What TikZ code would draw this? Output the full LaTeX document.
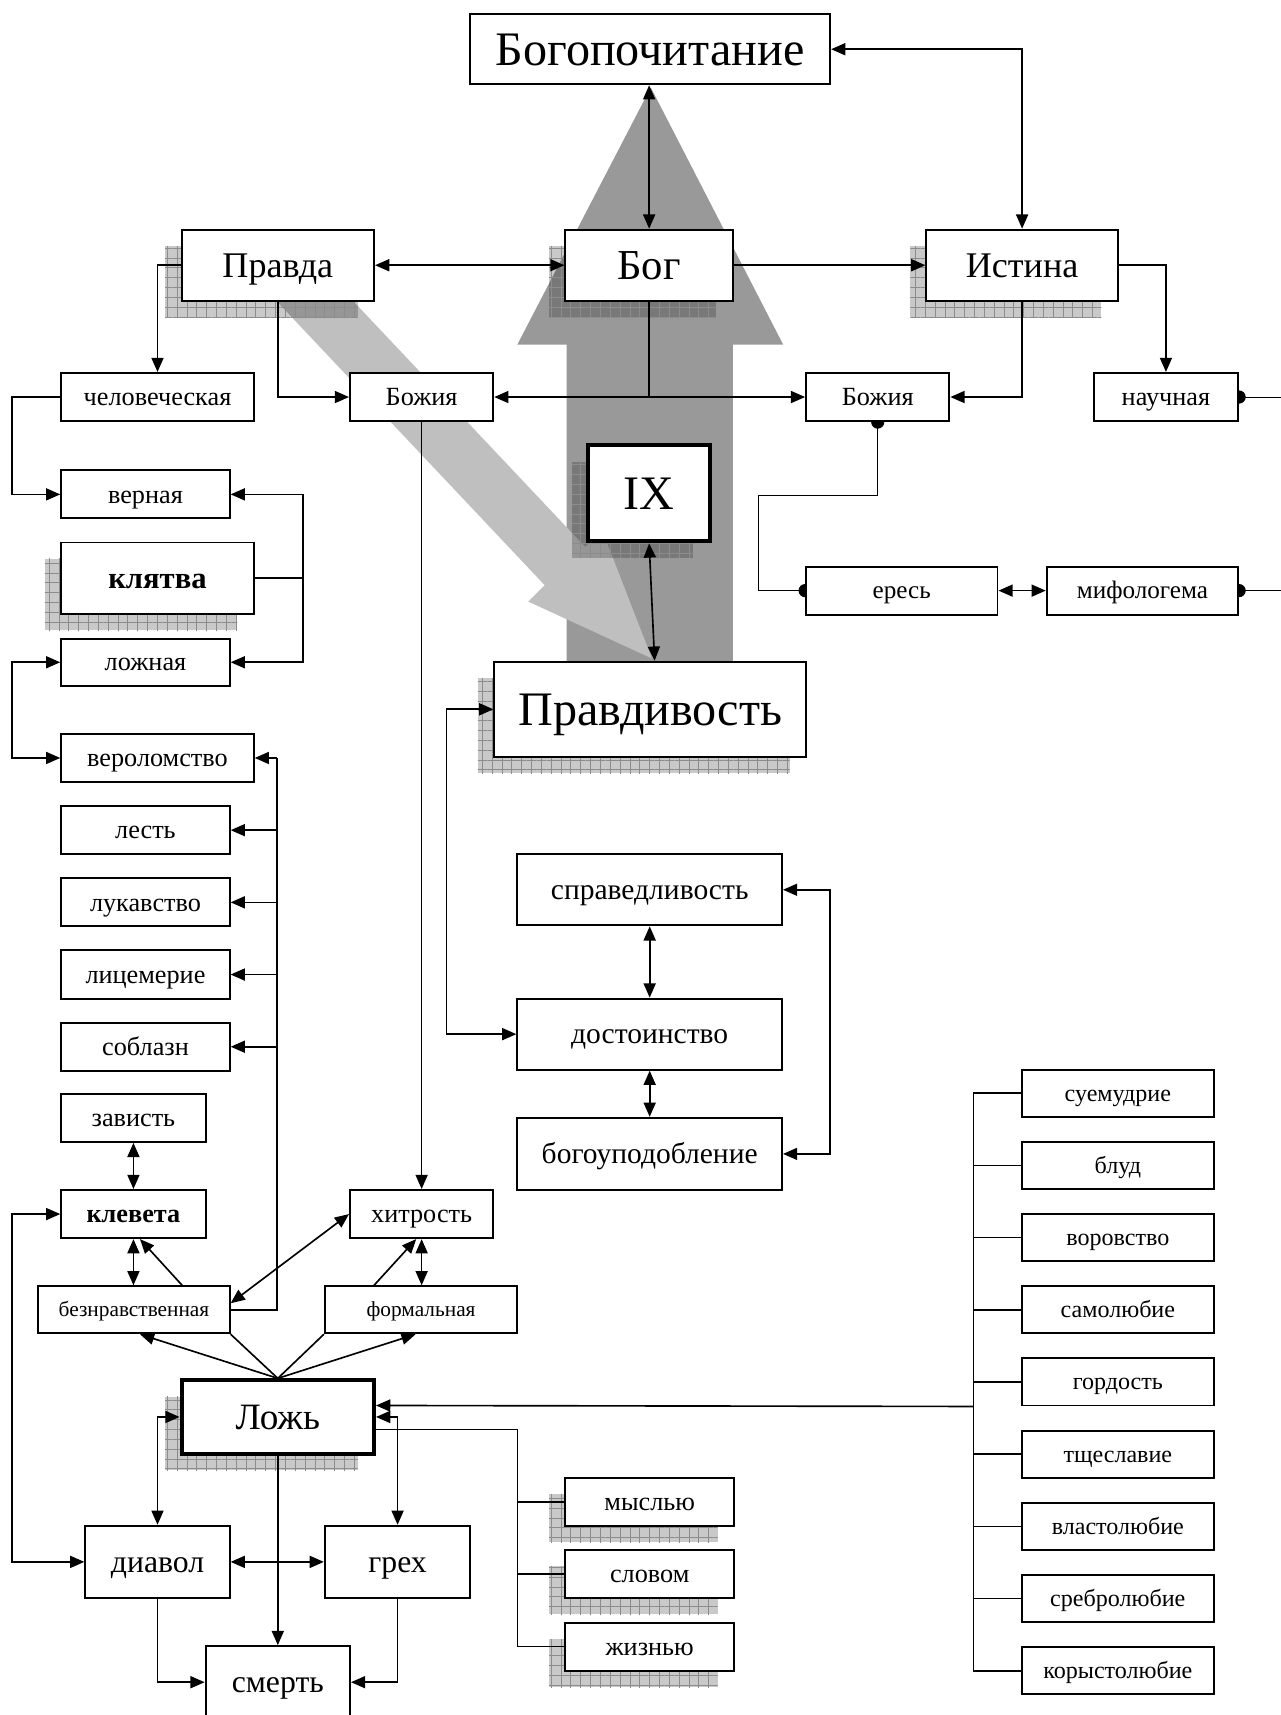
\documentclass[tikz,border=0pt]{standalone}
\usepackage{fontspec}
\setmainfont{Liberation Serif}
\usetikzlibrary{arrows.meta,shadows,patterns.meta,backgrounds}

\tikzset{
  box/.style 2 args={draw, fill=white, line width=0.9pt, inner sep=0pt,
    minimum width=#1, minimum height=#2},
  fs/.style={font=\fontsize{#1}{#1}\selectfont, text height=0.66*#1pt, text depth=0pt},
  fsb/.style={font=\fontsize{#1}{#1}\selectfont\bfseries, text height=0.66*#1pt, text depth=0pt},
  hatched/.style={shadow xshift=-7.5pt, shadow yshift=-7.5pt,
    general shadow={fill=black, opacity=0.21, shadow xshift=-7.5pt, shadow yshift=-7.5pt},
    general shadow={pattern={Hatch[angle=0,distance=4.5pt,line width=0.45pt]},
      pattern color=black!45, shadow xshift=-7.5pt, shadow yshift=-7.5pt}},
  knob/.style={{Circle[length=6pt]}-, shorten <=-3pt},
  twoknob/.style={{Circle[length=6pt]}-{Circle[length=6pt]}, shorten <=-3pt, shorten >=-3pt}
}

\begin{document}
\begin{tikzpicture}[x=0.5pt,y=-0.5pt,line width=0.75pt,>={Triangle[length=6.5pt,width=5.5pt]}]
\useasboundingbox (0,0) rectangle (1171,1568);
\clip (0,0) rectangle (1171,1568);
% big arrows
\fill[black!40] (595,80) -- (716,315) -- (670,315) -- (670,620) -- (518,620) -- (518,315) -- (473,315) -- cycle;
\fill[black!25] (596,602) -- (483,550) -- (498,535) -- (229,250) -- (266,215) -- (535,500) -- (551,486) -- cycle;

% upper part
\node[box={164.5pt}{32pt}, fs=22] (bogopoch) at (594.5,45) {Богопочитание};
\node[box={88pt}{32.5pt}, fs=16.5, hatched] (pravda) at (254,242.5) {Правда};
\node[box={76.5pt}{32.5pt}, fs=19.5, hatched] (bog) at (593.5,242.5) {Бог};
\node[box={87.5pt}{32.5pt}, fs=16.5, hatched] (istina) at (934.5,242.5) {Истина};
\node[box={88pt}{22pt}, fs=12] (chelov) at (144,363) {человеческая};
\node[box={65.5pt}{22pt}, fs=12] (bozh1) at (385.5,363) {Божия};
\node[box={65.5pt}{22pt}, fs=12] (bozh2) at (802.5,363) {Божия};
\node[box={66pt}{22pt}, fs=12] (nauch) at (1066,363) {научная};
\node[box={55.5pt}{44pt}, fs=22, line width=1.8pt, hatched] (ix) at (593.5,451) {IX};
\node[box={87.5pt}{22pt}, fs=11.5] (eres) at (824.5,540) {ересь};
\node[box={87.5pt}{22pt}, fs=11.5] (mifol) at (1044.5,540) {мифологема};
\node[box={142.5pt}{43.5pt}, fs=22, hatched] (pravdiv) at (594.5,648.5) {Правдивость};
\node[box={121pt}{32.5pt}, fs=13.5] (sprav) at (594,813.5) {справедливость};
\node[box={121pt}{32.5pt}, fs=13.5] (dostoin) at (594,945.5) {достоинство};
\node[box={121pt}{33pt}, fs=13.5] (bogoupod) at (594,1055) {богоуподобление};

% left column
\node[box={77pt}{22pt}, fs=12] (verna) at (133,452) {верная};
\node[box={88pt}{32.5pt}, fsb=14, hatched] (klyatva) at (144,528.5) {клятва};
\node[box={77pt}{21.5pt}, fs=12] (lozhna) at (133,605.5) {ложная};
\node[box={88pt}{22pt}, fs=12] (verolom) at (144,693) {вероломство};
\node[box={77pt}{22pt}, fs=12] (lest) at (133,759) {лесть};
\node[box={77pt}{22pt}, fs=12] (lukav) at (133,825) {лукавство};
\node[box={77pt}{22pt}, fs=12] (licem) at (133,891) {лицемерие};
\node[box={77pt}{22pt}, fs=12] (soblazn) at (133,957) {соблазн};
\node[box={66pt}{22pt}, fs=12] (zavist) at (122,1022) {зависть};
\node[box={66pt}{22pt}, fsb=12] (kleveta) at (122,1110) {клевета};
\node[box={65.5pt}{22pt}, fs=12] (hitrost) at (385.5,1110) {хитрость};
\node[box={87.5pt}{21.5pt}, fs=9.75] (beznrav) at (122.5,1197.5) {безнравственная};
\node[box={88pt}{21.5pt}, fs=9.75] (formal) at (385,1197.5) {формальная};

% lower part
\node[box={88pt}{33.5pt}, fs=17, line width=1.8pt, hatched] (lozh) at (254,1295.5) {Ложь};
\node[box={66pt}{33pt}, fs=14.5] (diavol) at (144,1428) {диавол};
\node[box={66.5pt}{33pt}, fs=14.5] (greh) at (363.5,1428) {грех};
\node[box={66pt}{33pt}, fs=14.5] (smert) at (254,1538) {смерть};
\node[box={77pt}{22pt}, fs=12, hatched] (myslyu) at (594,1373) {мыслью};
\node[box={77pt}{22pt}, fs=12, hatched] (slovom) at (594,1439) {словом};
\node[box={77pt}{22pt}, fs=12, hatched] (zhiznyu) at (594,1505.5) {жизнью};
\foreach \t [count=\i from 0] in {суемудрие,блуд,воровство,самолюбие,гордость,тщеславие,властолюбие,сребролюбие,корыстолюбие}
  \node[box={88pt}{21.5pt}, fs=11] (vice\i) at (1022,999.5+66*\i) {\t};

\coordinate (rim) at (1180,0);
\coordinate (hbend) at (693,453);
\coordinate (spine) at (253,0);
\coordinate (wtrunk) at (473,0);
\coordinate (vspine) at (890,0);

% links
\draw[<->] (bogopoch.south -| bog.north) -- (bog.north);
\draw[<->] (bogopoch.east) -| (istina.north);
\draw[<->] (pravda.east) -- (bog.west);
\draw[->] (bog.east) -- (istina.west);
\draw[->] (pravda.west) -| (chelov.north);
\draw[->] (pravda.south) |- (bozh1.west);
\draw (bog.south) -- (bog.south |- bozh1.east);
\draw[<->] (bozh1.east) -- (bozh2.west);
\draw[->] (istina.south) |- (bozh2.east);
\draw[->] (istina.east) -| (nauch.north);
\begin{scope}[on background layer]
\draw[knob] (nauch.east) -- (nauch.east -| rim);
\draw[twoknob] (bozh2.south) |- (hbend) |- (eres.west);
\draw[knob] (mifol.east) -- (mifol.east -| rim);
\end{scope}
\draw[<->] (eres.east) -- (mifol.west);
\draw[<->] (ix.south) -- ([xshift=2pt]pravdiv.north);
\draw[<->] (pravdiv.west) -- ++(-43,0) |- (dostoin.west);
\draw[<->] (sprav.south) -- (dostoin.north);
\draw[<->] (dostoin.south) -- (bogoupod.north);
\draw[<->] (sprav.east) -- ++(43,0) |- (bogoupod.east);

\draw[->] (chelov.west) -- ++(-44,0) |- (verna.west);
\draw[->] (klyatva.east) -- ++(44,0) |- (verna.east);
\draw[->] (klyatva.east) -- ++(44,0) |- (lozhna.east);
\draw[<->] (lozhna.west) -- ++(-44,0) |- (verolom.west);
\draw (beznrav.east) -| (spine |- verolom.east);
\foreach \v in {verolom,lest,lukav,licem,soblazn}
  \draw[->] (spine |- \v.east) -- (\v.east);
\draw[<->] (zavist.south) -- (kleveta.north);
\draw[<->] (kleveta.south |- beznrav.north) -- (kleveta.south);
\draw[->] ([xshift=22pt]beznrav.north) -- ([xshift=3pt]kleveta.south);
\draw[->] (bozh1.south) -- (hitrost.north);
\draw[<->] (hitrost.south |- formal.north) -- (hitrost.south);
\draw[->] ([xshift=-21.5pt]formal.north) -- ([xshift=-2.5pt]hitrost.south);
\draw[<->] (hitrost.west) -- ([yshift=3pt]beznrav.east);

\draw[->] (lozh.north) -- ([xshift=2.75pt]beznrav.south);
\draw (lozh.north) -- (beznrav.south east);
\draw (lozh.north) -- (formal.south west);
\draw[->] (lozh.north) -- ([xshift=-2.5pt]formal.south);
\draw[<->] (diavol.north) |- (lozh.west);
\draw[<->] (greh.north) |- (lozh.east);
\draw[<->] (diavol.east) -- (greh.west);
\draw[->] (lozh.south) -- (smert.north);
\draw[->] (diavol.south) |- (smert.west);
\draw[->] (greh.south) |- (smert.east);
\draw[<->] (kleveta.west) -- ++(-44,0) |- (diavol.west);
\draw ([yshift=-5.75pt]lozh.east) -| (wtrunk |- zhiznyu.west) -- (zhiznyu.west);
\foreach \w in {myslyu,slovom}
  \draw (wtrunk |- \w.west) -- (\w.west);
\draw (vspine |- vice0.west) -- (vspine |- vice8.west);
\foreach \i in {0,...,8}
  \draw (vspine |- vice\i.west) -- (vice\i.west);
\draw[->] (vspine |- vice4.south) -- ([yshift=5.25pt]lozh.east);
\end{tikzpicture}
\end{document}
